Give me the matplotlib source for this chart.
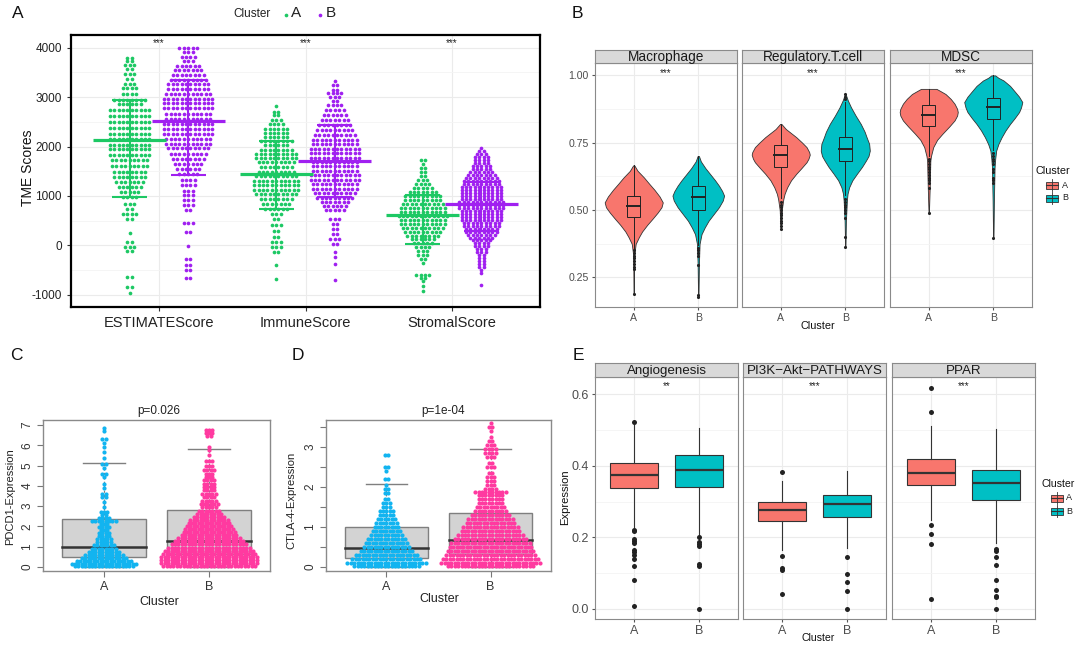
import matplotlib.pyplot as plt
import numpy as np
from matplotlib.patches import Rectangle

plt.rcParams['font.family'] = ['Liberation Sans', 'DejaVu Sans']
plt.rcParams['axes.unicode_minus'] = False

# ---------------- panel A: TME scores, beeswarm rows (row level, dots in row)
tme_cats = ["ESTIMATEScore", "ImmuneScore", "StromalScore"]

est_a_y = [3800, 3730, 3640, 3560, 3475, 3370, 3270, 3190, 3070, 2950, 2850, 2730, 2610, 2500, 2380, 2260,
           2150, 2040, 1940, 1820, 1720, 1600, 1480, 1380, 1280, 1180, 1080, 980, 840, 740, 640, 540, 250, 70,
           -30, -115, -630, -840, -970]
est_a_n = [2, 2, 3, 2, 3, 2, 3, 4, 4, 8, 6, 10, 10, 10, 10, 10, 10, 10, 10, 10, 9, 9, 8, 8, 7, 6, 5, 4, 3, 2,
           4, 2, 1, 2, 3, 2, 2, 2, 1]
est_b_y = [4000, 3915, 3810, 3730, 3625, 3545, 3455, 3355, 3260, 3170, 3070, 2970, 2870, 2770, 2665, 2565,
           2465, 2360, 2260, 2160, 2060, 1960, 1855, 1755, 1655, 1550, 1450, 1330, 1215, 1110, 1010, 910, 810,
           710, 450, 270, -15, -270, -405, -505, -655]
est_b_n = [5, 3, 4, 3, 6, 7, 8, 9, 10, 10, 11, 12, 12, 12, 11, 11, 12, 12, 12, 11, 11, 10, 9, 8, 7, 6, 5, 4,
           4, 3, 3, 3, 3, 2, 3, 2, 1, 2, 2, 2, 2]
imm_a_y = [2820, 2700, 2630, 2545, 2450, 2360, 2275, 2190, 2110, 2025, 1935, 1855, 1775, 1680, 1585, 1485,
           1400, 1300, 1215, 1125, 1030, 930, 830, 740, 640, 540, 405, 290, 170, 65, -35, -135, -405, -675]
imm_a_n = [1, 2, 2, 3, 4, 6, 6, 6, 8, 6, 8, 10, 10, 9, 8, 9, 10, 11, 11, 11, 10, 8, 7, 6, 3, 2, 3, 2, 2, 3,
           3, 2, 1, 1]
imm_b_y = [3320, 3250, 3150, 3080, 3000, 2920, 2835, 2735, 2630, 2530, 2430, 2330, 2225, 2140, 2045, 1955,
           1870, 1775, 1685, 1600, 1505, 1415, 1330, 1235, 1150, 1060, 965, 875, 790, 710, 540, 440, 340, 235,
           135, 35, -135, -235, -370, -695]
imm_b_n = [1, 2, 2, 4, 3, 2, 4, 5, 6, 7, 8, 9, 10, 11, 11, 12, 12, 12, 11, 11, 11, 12, 12, 11, 11, 10, 9, 7,
           6, 5, 3, 2, 2, 2, 3, 2, 1, 1, 1, 1]
str_a_y = [1720, 1640, 1560, 1480, 1400, 1320, 1240, 1160, 1080, 1000, 920, 840, 760, 680, 600, 520, 440,
           360, 280, 200, 120, 40, -40, -120, -200, -280, -360, -600, -650, -720, -820, -920]
str_a_n = [2, 1, 2, 2, 2, 3, 4, 5, 7, 9, 9, 10, 11, 11, 12, 11, 11, 10, 9, 8, 6, 5, 4, 3, 3, 2, 1, 4, 2, 1,
           1, 1]
str_b_y = [1960, 1900, 1840, 1780, 1720, 1660, 1600, 1540, 1480, 1420, 1360, 1300, 1240, 1180, 1120, 1060,
           1000, 940, 880, 820, 760, 700, 640, 580, 520, 460, 400, 340, 280, 220, 160, 100, 40, -20, -80,
           -140, -200, -260, -320, -380, -440, -500, -560, -800]
str_b_n = [1, 2, 3, 4, 4, 4, 5, 5, 6, 7, 8, 9, 9, 10, 10, 10, 10, 10, 11, 11, 11, 10, 10, 10, 10, 9, 9, 8,
           8, 7, 6, 5, 4, 4, 3, 3, 2, 2, 2, 2, 2, 1, 1, 1]
# summary bars (middle, lower, upper)
tme_sum_a = [(2125, 980, 2950), (1437, 730, 2110), (607, 35, 1026)]
tme_sum_b = [(2525, 1430, 3335), (1707, 978, 2430), (830, 285, 1282)]
tme_stars = ["***", "***", "***"]

# ---------------- panel B: violins (level, half width) + box stats (q1, med, q3, low, high)
b_facets = ["Macrophage", "Regulatory.T.cell", "MDSC"]
mac_a_v = [0.665, 0.645, 0.62, 0.597, 0.575, 0.55, 0.528, 0.51, 0.49, 0.467, 0.445, 0.42, 0.399, 0.374, 0.34, 0.29, 0.19]
mac_a_w = [0.01, 0.06, 0.16, 0.24, 0.32, 0.40, 0.45, 0.43, 0.37, 0.29, 0.21, 0.13, 0.08, 0.03, 0.012, 0.006, 0.003]
mac_b_v = [0.70, 0.68, 0.655, 0.634, 0.61, 0.59, 0.57, 0.553, 0.535, 0.51, 0.485, 0.46, 0.435, 0.41, 0.374, 0.30, 0.176]
mac_b_w = [0.01, 0.04, 0.11, 0.18, 0.26, 0.32, 0.37, 0.40, 0.38, 0.32, 0.24, 0.16, 0.10, 0.05, 0.02, 0.01, 0.003]
reg_a_v = [0.819, 0.80, 0.785, 0.77, 0.75, 0.733, 0.715, 0.705, 0.69, 0.677, 0.655, 0.634, 0.61, 0.584, 0.56, 0.54, 0.50, 0.43]
reg_a_w = [0.01, 0.08, 0.16, 0.24, 0.33, 0.40, 0.44, 0.45, 0.43, 0.40, 0.32, 0.24, 0.16, 0.10, 0.06, 0.04, 0.016, 0.003]
reg_b_v = [0.931, 0.906, 0.88, 0.85, 0.819, 0.79, 0.77, 0.745, 0.72, 0.70, 0.683, 0.66, 0.634, 0.61, 0.584, 0.56, 0.535, 0.46, 0.364]
reg_b_w = [0.003, 0.04, 0.09, 0.16, 0.24, 0.30, 0.33, 0.37, 0.38, 0.36, 0.32, 0.26, 0.18, 0.11, 0.06, 0.035, 0.025, 0.01, 0.003]
mdsc_a_v = [0.949, 0.941, 0.93, 0.912, 0.894, 0.875, 0.863, 0.85, 0.832, 0.81, 0.782, 0.76, 0.733, 0.70, 0.683, 0.584, 0.489]
mdsc_a_w = [0.12, 0.18, 0.26, 0.34, 0.40, 0.44, 0.45, 0.44, 0.40, 0.32, 0.21, 0.13, 0.07, 0.035, 0.025, 0.015, 0.003]
mdsc_b_v = [0.999, 0.99, 0.98, 0.96, 0.943, 0.92, 0.9, 0.88, 0.863, 0.84, 0.819, 0.795, 0.77, 0.745, 0.72, 0.69, 0.658, 0.535, 0.396]
mdsc_b_w = [0.03, 0.08, 0.16, 0.26, 0.32, 0.40, 0.45, 0.43, 0.40, 0.33, 0.26, 0.19, 0.13, 0.08, 0.045, 0.03, 0.02, 0.01, 0.003]
b_box_a = [(0.473, 0.516, 0.551, 0.358, 0.665), (0.661, 0.704, 0.741, 0.545, 0.819), (0.813, 0.853, 0.889, 0.70, 0.949)]
b_box_b = [(0.500, 0.547, 0.587, 0.37, 0.70), (0.683, 0.726, 0.772, 0.555, 0.90), (0.839, 0.881, 0.916, 0.723, 0.999)]
b_out_a = [[0.35, 0.34, 0.33, 0.32, 0.31, 0.30, 0.29, 0.28, 0.19],
           [0.53, 0.52, 0.51, 0.50, 0.49, 0.48, 0.47, 0.46, 0.45, 0.44, 0.43],
           [0.69, 0.68, 0.67, 0.66, 0.65, 0.64, 0.63, 0.62, 0.61, 0.60, 0.58, 0.489]]
b_out_b = [[0.36, 0.35, 0.34, 0.33, 0.295, 0.185, 0.178],
           [0.91, 0.92, 0.93, 0.54, 0.53, 0.52, 0.51, 0.50, 0.49, 0.47, 0.40, 0.364],
           [0.71, 0.70, 0.69, 0.68, 0.67, 0.65, 0.64, 0.62, 0.61, 0.60, 0.396]]

# ---------------- panels C / D: beeswarm rows + box stats (q1, med, q3, cap low, cap high)
pd_a_y = [6.85, 6.7, 6.3, 6.1, 5.9, 5.65, 5.35, 5.1, 4.9, 4.6, 4.45, 4.1, 3.9, 3.6, 3.45, 3.2, 2.95, 2.7,
          2.55, 2.4, 2.25, 2.1, 1.95, 1.8, 1.65, 1.5, 1.35, 1.2, 1.05, 0.9, 0.75, 0.6, 0.45, 0.3, 0.15, 0.02]
pd_a_n = [1, 1, 2, 1, 1, 1, 1, 2, 1, 2, 1, 1, 1, 2, 2, 1, 1, 3, 2, 4, 8, 3, 4, 3, 4, 4, 5, 5, 7, 8, 10, 12,
          14, 17, 20, 18]
pd_b_y = [6.75, 6.6, 6.45, 5.9, 5.75, 5.5, 5.2, 5.0, 4.8, 4.6, 4.45, 4.3, 4.1, 3.95, 3.8, 3.6, 3.45, 3.25,
          3.1, 2.95, 2.75, 2.6, 2.45, 2.3, 2.15, 2.0, 1.85, 1.7, 1.55, 1.4, 1.25, 1.1, 0.95, 0.8, 0.65, 0.5,
          0.35, 0.2, 0.05]
pd_b_n = [3, 3, 2, 1, 1, 1, 3, 3, 4, 3, 3, 4, 4, 4, 4, 5, 4, 5, 6, 5, 7, 8, 10, 12, 13, 14, 15, 16, 17, 19,
          21, 23, 25, 27, 28, 29, 29, 29, 28]
pd_box = [(0.48, 0.99, 2.37, 0.0, 5.13), (0.62, 1.27, 2.82, 0.0, 5.84)]
ct_a_y = [2.8, 2.5, 2.4, 2.2, 2.05, 1.95, 1.85, 1.7, 1.6, 1.5, 1.4, 1.3, 1.2, 1.1, 1.0, 0.9, 0.8, 0.7, 0.6,
          0.5, 0.4, 0.3, 0.2, 0.1, 0.02]
ct_a_n = [2, 2, 1, 2, 1, 2, 2, 2, 3, 3, 5, 5, 6, 7, 8, 9, 10, 12, 13, 14, 16, 19, 21, 24, 20]
ct_b_y = [3.6, 3.5, 3.4, 3.25, 3.15, 3.05, 2.95, 2.85, 2.75, 2.6, 2.5, 2.35, 2.25, 2.15, 2.05, 1.95, 1.88,
          1.8, 1.7, 1.6, 1.5, 1.4, 1.3, 1.2, 1.1, 1.0, 0.9, 0.8, 0.7, 0.6, 0.5, 0.4, 0.3, 0.2, 0.1, 0.02]
ct_b_n = [1, 2, 1, 1, 2, 3, 4, 4, 3, 2, 3, 2, 3, 3, 3, 4, 10, 8, 8, 8, 9, 10, 12, 14, 15, 17, 18, 20, 22, 24,
          25, 26, 27, 29, 30, 26]
ct_box = [(0.21, 0.46, 0.99, 0.0, 2.08), (0.31, 0.66, 1.35, 0.0, 2.95)]

# ---------------- panel E: boxplots (q1, med, q3, low, high) + outliers
e_facets = ["Angiogenesis", "PI3K\u2212Akt\u2212PATHWAYS", "PPAR"]
e_stars = ["**", "***", "***"]
e_box_a = [(0.338, 0.373, 0.408, 0.229, 0.515), (0.245, 0.276, 0.300, 0.166, 0.358), (0.347, 0.381, 0.418, 0.248, 0.511)]
e_box_b = [(0.341, 0.387, 0.429, 0.206, 0.506), (0.258, 0.292, 0.319, 0.171, 0.385), (0.304, 0.351, 0.387, 0.185, 0.502)]
e_out_a = [[0.523, 0.222, 0.217, 0.195, 0.19, 0.183, 0.164, 0.158, 0.15, 0.139, 0.12, 0.081, 0.008],
           [0.383, 0.149, 0.115, 0.108, 0.041],
           [0.618, 0.551, 0.235, 0.21, 0.181, 0.028]]
e_out_b = [[0.201, 0.186, 0.181, 0.177, 0.127, 0.121, 0.0],
           [0.144, 0.098, 0.074, 0.05, 0.0],
           [0.167, 0.162, 0.145, 0.123, 0.08, 0.052, 0.037, 0.034, 0.0]]

GREEN, PURPLE = '#1DC864', '#A020F0'
RED, CYAN = '#F8766D', '#00BFC4'
BLUE, PINK = '#12B4F0', '#FF3AA0'

W, H = 1080, 648
fig = plt.figure(figsize=(W / 100, H / 100), dpi=100)


def px_axes(l, t, r, b):
    return fig.add_axes([l / W, 1 - b / H, (r - l) / W, (b - t) / H])


def swarm(ax, center, ys, ns, dx, color, s):
    xs, yy = [], []
    for y, n in zip(ys, ns):
        for i in range(n):
            xs.append(center + (i - (n - 1) / 2) * dx)
            yy.append(y)
    ax.scatter(xs, yy, s=s, color=color, linewidths=0, zorder=3, clip_on=True)


def gg_grid(ax, major, minor):
    ax.set_yticks(major)
    ax.set_yticks(minor, minor=True)
    ax.grid(which='major', color='#EBEBEB', lw=0.8)
    ax.grid(which='minor', axis='y', color='#F4F4F4', lw=0.6)
    ax.set_axisbelow(True)
    ax.tick_params(which='minor', length=0)


# ================= A
axA = px_axes(71, 35, 540, 307)
axA.set_xlim(0.4, 3.6)
axA.set_ylim(-1245, 4255)
gg_grid(axA, range(-1000, 4001, 1000), range(-500, 4001, 1000))
axA.set_xticks([1, 2, 3])
axA.set_xticklabels(tme_cats, fontsize=10.5, color='#222222')
axA.tick_params(axis='y', labelsize=8.5, labelcolor='#222222', length=3, color='#333333')
axA.tick_params(axis='x', length=3, color='#333333', pad=3.5)
for sp in axA.spines.values():
    sp.set_color('black')
    sp.set_linewidth(1.6)
dxA = 4.4 / ((540 - 71) / 3.2)
rows_a = [(est_a_y, est_a_n), (imm_a_y, imm_a_n), (str_a_y, str_a_n)]
rows_b = [(est_b_y, est_b_n), (imm_b_y, imm_b_n), (str_b_y, str_b_n)]
for i in range(3):
    x = i + 1
    swarm(axA, x - 0.2, rows_a[i][0], rows_a[i][1], dxA, GREEN, 7)
    swarm(axA, x + 0.2, rows_b[i][0], rows_b[i][1], dxA, PURPLE, 7)
    for xc, (mid, lo, hi), col in [(x - 0.2, tme_sum_a[i], GREEN), (x + 0.2, tme_sum_b[i], PURPLE)]:
        axA.plot([xc - 0.25, xc + 0.25], [mid, mid], color=col, lw=2.3, zorder=4, solid_capstyle='butt')
        axA.plot([xc, xc], [lo, hi], color=col, lw=1.5, zorder=4)
        for v in (lo, hi):
            axA.plot([xc - 0.12, xc + 0.12], [v, v], color=col, lw=1.5, zorder=4, solid_capstyle='butt')
    axA.text(x, 4095, tme_stars[i], ha='center', va='center', fontsize=7, color='#222222')

# ================= B
b_violins = [((mac_a_v, mac_a_w), (mac_b_v, mac_b_w)),
             ((reg_a_v, reg_a_w), (reg_b_v, reg_b_w)),
             ((mdsc_a_v, mdsc_a_w), (mdsc_b_v, mdsc_b_w))]
for j, l in enumerate([595, 742, 890]):
    ax = px_axes(l, 63, l + 142, 307)
    ax.set_xlim(0.4, 2.6)
    ax.set_ylim(0.14, 1.045)
    gg_grid(ax, [0.25, 0.5, 0.75, 1.0], [0.375, 0.625, 0.875])
    ax.set_xticks([1, 2])
    ax.set_xticklabels(["A", "B"], fontsize=8, color='#333333')
    ax.tick_params(axis='both', length=2.5, color='#555555', labelsize=7.6, labelcolor='#4D4D4D', pad=2)
    if j == 0:
        ax.set_yticklabels(["0.25", "0.50", "0.75", "1.00"])
    else:
        ax.set_yticklabels([])
        ax.tick_params(axis='y', length=0)
    for sp in ax.spines.values():
        sp.set_color('#8A8A8A')
        sp.set_linewidth(0.8)
    for k, ((vv, ww), col, box, outs) in enumerate([(b_violins[j][0], RED, b_box_a[j], b_out_a[j]),
                                                     (b_violins[j][1], CYAN, b_box_b[j], b_out_b[j])]):
        x = k + 1
        vv = np.array(vv)
        ww = np.array(ww)
        ax.fill_betweenx(vv, x - ww, x + ww, facecolor=col, edgecolor='#333333', lw=0.6, zorder=2)
        q1, med, q3, lo, hi = box
        ax.plot([x, x], [q3, hi], color='#222222', lw=0.7, zorder=3)
        ax.plot([x, x], [lo, q1], color='#222222', lw=0.7, zorder=3)
        ax.add_patch(Rectangle((x - 0.1, q1), 0.2, q3 - q1, fc='none', ec='#222222', lw=0.7, zorder=3))
        ax.plot([x - 0.1, x + 0.1], [med, med], color='#222222', lw=1.4, zorder=3)
        ax.scatter([x] * len(outs), outs, s=5, color='#222222', linewidths=0, zorder=4)
    ax.text(1.5, 1.007, "***", ha='center', va='center', fontsize=7, color='#222222')
    st = px_axes(l, 50, l + 142, 63)
    st.set_facecolor('#D9D9D9')
    st.set_xticks([])
    st.set_yticks([])
    for sp in st.spines.values():
        sp.set_color('#8A8A8A')
        sp.set_linewidth(0.8)
    st.text(0.5, 0.45, b_facets[j], ha='center', va='center', fontsize=9.8, color='#1A1A1A',
            transform=st.transAxes)


# ================= C / D
def base_panel(l, r, ylim, ticks, labels, rows_a, rows_b, boxes):
    ax = px_axes(l, 420, r, 571)
    ax.set_xlim(0.42, 2.58)
    ax.set_ylim(*ylim)
    ax.set_xticks([1, 2])
    ax.set_xticklabels(["A", "B"], fontsize=9, color='#333333')
    ax.set_yticks(ticks)
    ax.set_yticklabels(labels, fontsize=8.5, color='#333333', rotation=90, va='center')
    ax.tick_params(length=4, color='#777777', pad=3)
    for sp in ax.spines.values():
        sp.set_color('#8A8A8A')
        sp.set_linewidth(1.0)
    dx = 3.4 / ((r - l) / 2.16)
    for k, (rows, col, box) in enumerate([(rows_a, BLUE, boxes[0]), (rows_b, PINK, boxes[1])]):
        x = k + 1
        q1, med, q3, lo, hi = box
        ax.add_patch(Rectangle((x - 0.4, q1), 0.8, q3 - q1, fc='#D3D3D3', ec='#7F7F7F', lw=1.0, zorder=1))
        ax.plot([x, x], [q3, hi], color='#7F7F7F', lw=0.8, ls=(0, (2, 2)), zorder=1)
        ax.plot([x, x], [lo, q1], color='#7F7F7F', lw=0.8, ls=(0, (2, 2)), zorder=1)
        for v in (lo, hi):
            ax.plot([x - 0.2, x + 0.2], [v, v], color='#7F7F7F', lw=1.0, zorder=1)
        ax.plot([x - 0.4, x + 0.4], [med, med], color='#333333', lw=1.8, zorder=2)
        swarm(ax, x, rows[0], rows[1], dx, col, 9)
    return ax


base_panel(43, 270, (-0.21, 7.25), range(0, 8), [str(v) for v in range(8)],
           (pd_a_y, pd_a_n), (pd_b_y, pd_b_n), pd_box)
base_panel(326, 551, (-0.11, 3.67), np.arange(0, 3.6, 0.5), ["0", "", "1", "", "2", "", "3", ""],
           (ct_a_y, ct_a_n), (ct_b_y, ct_b_n), ct_box)

# ================= E
for j, l in enumerate([595, 743, 892]):
    ax = px_axes(l, 377, l + 143, 619)
    ax.set_xlim(0.4, 2.6)
    ax.set_ylim(-0.028, 0.648)
    gg_grid(ax, [0.0, 0.2, 0.4, 0.6], [0.1, 0.3, 0.5])
    for k, (col, box, outs) in enumerate([(RED, e_box_a[j], e_out_a[j]), (CYAN, e_box_b[j], e_out_b[j])]):
        q1, med, q3, lo, hi = box
        stats = [dict(q1=q1, med=med, q3=q3, whislo=lo, whishi=hi, fliers=outs)]
        ax.bxp(stats, positions=[k + 1], widths=0.75, patch_artist=True, showcaps=False,
               boxprops=dict(facecolor=col, edgecolor='#333333', lw=0.8),
               medianprops=dict(color='#333333', lw=1.6),
               whiskerprops=dict(color='#333333', lw=0.8),
               flierprops=dict(marker='o', markerfacecolor='#222222', markeredgecolor='none', markersize=3.6),
               manage_ticks=False)
    ax.set_xticks([1, 2])
    ax.set_xticklabels(["A", "B"], fontsize=8.5, color='#333333')
    ax.tick_params(axis='both', length=2.5, color='#555555', labelsize=9, labelcolor='#4D4D4D', pad=2)
    if j == 0:
        ax.set_yticklabels(["0.0", "0.2", "0.4", "0.6"])
    else:
        ax.set_yticklabels([])
        ax.tick_params(axis='y', length=0)
    for sp in ax.spines.values():
        sp.set_color('#8A8A8A')
        sp.set_linewidth(0.8)
    ax.text(1.5, 0.624, e_stars[j], ha='center', va='center', fontsize=7, color='#222222')
    st = px_axes(l, 363, l + 143, 377)
    st.set_facecolor('#D9D9D9')
    st.set_xticks([])
    st.set_yticks([])
    for sp in st.spines.values():
        sp.set_color('#8A8A8A')
        sp.set_linewidth(0.8)
    st.text(0.5, 0.45, e_facets[j], ha='center', va='center', fontsize=9.6, color='#1A1A1A',
            transform=st.transAxes)

# ================= labels, legends (pixel overlay)
ov = fig.add_axes([0, 0, 1, 1])
ov.set_xlim(0, W)
ov.set_ylim(H, 0)
ov.axis('off')

for letter, x, y in [("A", 12, 14), ("B", 572, 14), ("C", 10, 356), ("D", 292, 356), ("E", 573, 356)]:
    ov.text(x, y, letter, fontsize=12.5, ha='left', va='center', color='#111111')

ov.text(28, 168, "TME Scores", rotation=90, ha='center', va='center', fontsize=10, color='#111111')
ov.text(233, 14, "Cluster", ha='left', va='center', fontsize=8.5, color='#222222')
ov.scatter([286], [15], s=7, color=GREEN, linewidths=0)
ov.text(291, 13, "A", ha='left', va='center', fontsize=11, color='#222222')
ov.scatter([320], [15], s=7, color=PURPLE, linewidths=0)
ov.text(326, 13, "B", ha='left', va='center', fontsize=11, color='#222222')

ov.text(818, 326, "Cluster", ha='center', va='center', fontsize=7.8, color='#111111')
ov.text(1035, 171, "Cluster", ha='left', va='center', fontsize=7.8, color='#111111')
ov.text(818, 638, "Cluster", ha='center', va='center', fontsize=7.6, color='#111111')
ov.text(1041, 484, "Cluster", ha='left', va='center', fontsize=7.6, color='#111111')
ov.text(565, 497, "Expression", rotation=90, ha='center', va='center', fontsize=8.1, color='#111111')


def key_glyph(x, y, col):
    ov.plot([x + 6, x + 6], [y - 6, y + 6], color='#333333', lw=0.6)
    ov.add_patch(Rectangle((x, y - 3.5), 12, 7, fc=col, ec='#333333', lw=0.6))
    ov.plot([x, x + 12], [y, y], color='#333333', lw=0.8)


key_glyph(1046, 185, RED)
key_glyph(1046, 198, CYAN)
ov.text(1062, 185, "A", ha='left', va='center', fontsize=6.5, color='#222222')
ov.text(1062, 198, "B", ha='left', va='center', fontsize=6.5, color='#222222')
key_glyph(1051, 498, RED)
key_glyph(1051, 511, CYAN)
ov.text(1066, 498, "A", ha='left', va='center', fontsize=6.5, color='#222222')
ov.text(1066, 511, "B", ha='left', va='center', fontsize=6.5, color='#222222')

ov.text(159, 411, "p=0.026", ha='center', va='center', fontsize=8.5, color='#222222')
ov.text(443, 411, "p=1e-04", ha='center', va='center', fontsize=8.5, color='#222222')
ov.text(10, 497, "PDCD1-Expression", rotation=90, ha='center', va='center', fontsize=8, color='#222222')
ov.text(291, 500, "CTLA-4-Expression", rotation=90, ha='center', va='center', fontsize=8, color='#222222')
ov.text(159, 602, "Cluster", ha='center', va='center', fontsize=9, color='#222222')
ov.text(439, 599, "Cluster", ha='center', va='center', fontsize=9, color='#222222')

fig.savefig("out.png", dpi=100)
